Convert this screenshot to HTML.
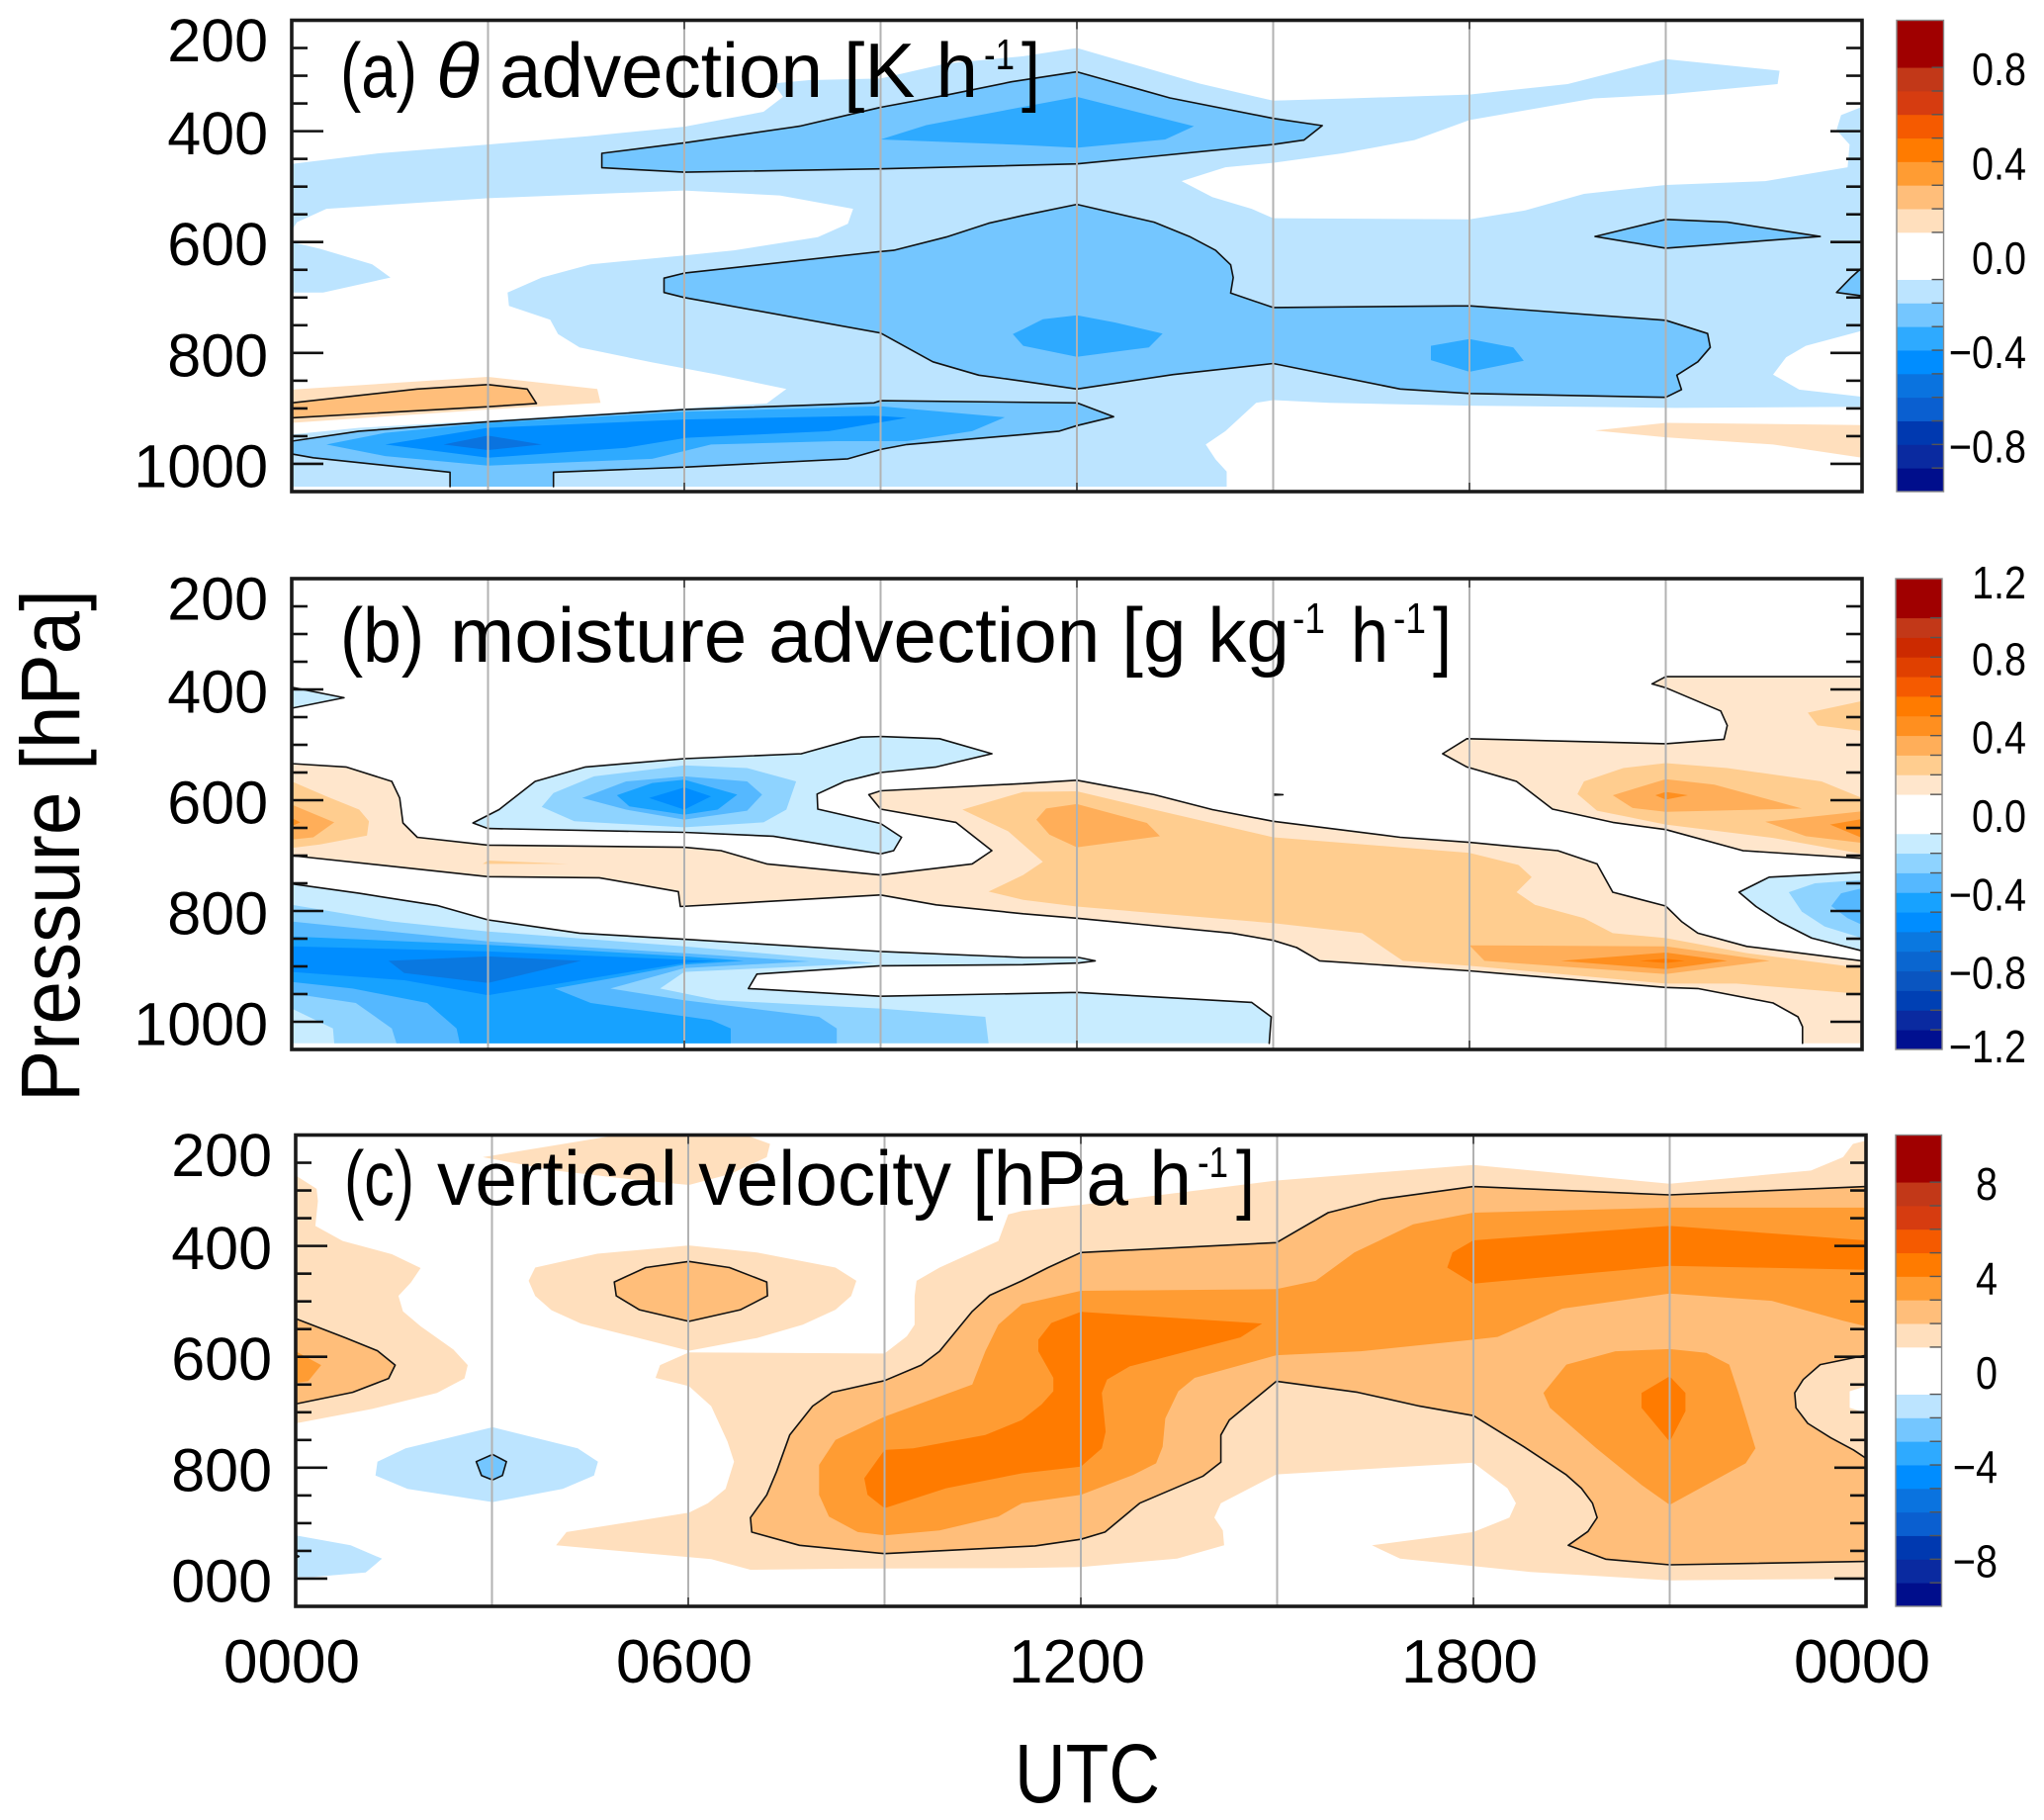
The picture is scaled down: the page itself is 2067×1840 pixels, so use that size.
<!DOCTYPE html>
<html lang="en">
<head>
<meta charset="utf-8">
<title>Advection and vertical velocity time-pressure sections</title>
<style>
html,body{margin:0;padding:0;background:#fff;width:2067px;height:1840px;overflow:hidden}
svg{display:block}
text{font-family:"Liberation Sans",sans-serif;fill:#000}
</style>
</head>
<body>
<svg id="figure" xmlns="http://www.w3.org/2000/svg" width="2067" height="1840" viewBox="0 0 2067 1840">
  <g id="panel-a"></g>
  <g id="panel-b"></g>
  <g id="panel-c"></g>

  <g>
    <text x="344" y="98" font-size="78" textLength="78" lengthAdjust="spacingAndGlyphs">(a)</text>
    <text x="441" y="98" font-size="78" font-style="italic" font-family="Liberation Serif" textLength="44" lengthAdjust="spacingAndGlyphs">θ</text>
    <text x="505" y="98" font-size="78" textLength="484" lengthAdjust="spacingAndGlyphs">advection [K h</text>
    <text x="995" y="70" font-size="44" textLength="31" lengthAdjust="spacingAndGlyphs">-1</text>
    <text x="1033" y="98" font-size="78" textLength="19" lengthAdjust="spacingAndGlyphs">]</text>
  </g>
  <g>
    <text x="344" y="669" font-size="78" textLength="85" lengthAdjust="spacingAndGlyphs">(b)</text>
    <text x="455" y="669" font-size="78" textLength="849" lengthAdjust="spacingAndGlyphs">moisture advection [g kg</text>
    <text x="1307" y="640" font-size="44" textLength="33" lengthAdjust="spacingAndGlyphs">-1</text>
    <text x="1366" y="669" font-size="78" textLength="38" lengthAdjust="spacingAndGlyphs">h</text>
    <text x="1409" y="640" font-size="44" textLength="33" lengthAdjust="spacingAndGlyphs">-1</text>
    <text x="1449" y="669" font-size="78" textLength="19" lengthAdjust="spacingAndGlyphs">]</text>
  </g>
  <g>
    <text x="348" y="1218" font-size="78" textLength="71" lengthAdjust="spacingAndGlyphs">(c)</text>
    <text x="442" y="1218" font-size="78" textLength="763" lengthAdjust="spacingAndGlyphs">vertical velocity [hPa h</text>
    <text x="1211" y="1190" font-size="44" textLength="31" lengthAdjust="spacingAndGlyphs">-1</text>
    <text x="1250" y="1218" font-size="78" textLength="19" lengthAdjust="spacingAndGlyphs">]</text>
  </g>

  <text transform="translate(80,1114) rotate(-90)" font-size="84" textLength="518" lengthAdjust="spacingAndGlyphs">Pressure [hPa]</text>
  <text x="1026" y="1822" font-size="84" textLength="147" lengthAdjust="spacingAndGlyphs">UTC</text>
</svg>

<script>
/* ---------- shared axis data ---------- */
const hourLines = [3, 6, 9, 12, 15, 18, 21];
const hourMajorTicks = [6, 12, 18];
const hourTickValues = [0, 6, 12, 18, 24];
const hourTickLabels = ['0000', '0600', '1200', '1800', '0000'];
const pressureMajor = [200, 400, 600, 800, 1000];
const pressureMinor = [250, 300, 350, 450, 500, 550, 650, 700, 750, 850, 900, 950];
const pressureLabels = ['200', '400', '600', '800', '1000'];
const pressureLabelsC = ['200', '400', '600', '800', '000'];

/* ---------- panel (a) contour regions: [hour UTC, pressure hPa] ---------- */
const aLight = [[0,459],[1.33,440],[3,424],[4.52,409],[6,392],[7.21,365],[7.51,338],[7.36,314],[7.91,308],[9,305],[10,278],[11.18,265],[12,250],[13.87,314],[15,345],[16.16,341],[18,334],[19.5,315],[21,270],[22.74,291],[22.71,315],[21,334],[19.9,341],[18,380],[17.16,416],[16.06,440],[15,457],[14.27,465],[13.6,490],[14.07,519],[14.67,540],[15,557],[18,559],[18.85,543],[19.75,513],[21,497],[22.52,490],[23.78,465],[23.81,424],[23.61,398],[23.68,371],[24,356],[24,760],[23.14,787],[22.84,808],[22.64,839],[23.04,866],[24,879],[24,897],[21.14,899],[18,895],[15.86,890],[15,885],[14.74,890],[14.27,941],[13.97,965],[14.12,992],[14.29,1014],[14.29,1041],[0,1041],[0,947],[1.03,935],[3,922],[6,900],[7.26,891],[7.56,865],[6.51,839],[5.51,817],[4.4,790],[4.07,766],[3.95,740],[3.32,715],[3.3,691],[3.82,664],[4.57,640],[6,624],[6.76,615],[8.04,591],[8.5,567],[8.58,540],[7.46,516],[6,507],[3,521],[0.53,540],[0.08,564],[0,579]];
const aLeftBlob = [[0,600],[0.43,612],[1.23,640],[1.51,664],[0.48,691],[0,691]];
const aWarm1 = [[0,866],[3,843],[4.67,865],[4.72,890],[3,902],[0,926]];
const aWarm2 = [[0,890],[1.92,865],[3,857],[3.6,865],[3.74,891],[3,897],[0,917]];
const aWarmRight = [[19.92,940],[21,926],[24,930],[24,989],[22.64,965],[21,952]];
const aUpper2 = [[4.74,440],[6,421],[7.76,391],[9,357],[10,335],[11,311],[12,293],[13.42,340],[15,377],[15.75,390],[15.47,416],[15,424],[12,459],[9,468],[6,474],[4.74,466]];
const aMiddle2 = [[5.69,665],[6,656],[9,617],[9.2,615],[10,591],[10.65,566],[11.18,552],[12,532],[13.18,564],[13.72,590],[14.12,615],[14.35,641],[14.39,664],[14.35,692],[15,718],[18,715],[21,741],[21.64,765],[21.68,790],[21.49,816],[21.17,840],[21.24,866],[21,880],[18,873],[16.94,865],[15,819],[13.47,839],[12,865],[11.18,851],[10.5,840],[9.8,816],[9,764],[6,700],[5.69,691]];
const aSmall2 = [[19.92,590],[21,559],[21.94,564],[23.36,590],[21,611]];
const aEdge2 = [[24,646],[23.83,664],[23.61,691],[24,697]];
const aLow2 = [[0,959],[1.03,941],[3,924],[6,902],[8.9,890],[9,886],[12,890],[12.56,915],[12,931],[11.73,941],[11.18,947],[9.4,965],[9,974],[8.5,991],[6,1006],[4,1015],[4,1041],[2.42,1041],[2.42,1015],[0.33,989],[0,982]];
const aUpper3 = [[9,415],[9.7,389],[11.18,356],[12,338],[13.79,391],[13.35,415],[12,430],[11.18,425]];
const aMiddle3 = [[11.02,766],[11.18,757],[11.48,739],[12,732],[12.58,745],[13.31,765],[13.1,790],[12,807],[11.18,787]];
const aRight3 = [[17.41,787],[18,775],[18.67,790],[18.83,814],[18,834],[17.41,813]];
const aLow3 = [[0.53,965],[1.43,944],[3,926],[6,906],[9,896],[10.9,916],[10.4,941],[9.4,959],[8.31,959],[6.41,965],[5.51,991],[3,1003],[1.43,986]];
const aLow4 = [[1.43,965],[3,935],[6,920],[8.9,913],[9.4,917],[8.21,941],[6.03,953],[5.11,971],[3,989]];
const aLow5 = [[2.32,965],[3,949],[3.82,965],[3,975]];

/* ---------- panel (b) contour regions ---------- */
const bTopBlue = [[0,396],[0.8,415],[0,434]];
const bWarmStrip = [[0,534],[0.83,540],[1.53,566],[1.65,596],[1.7,641],[1.92,667],[3,681],[6,685],[6.56,691],[7.26,715],[9,735],[10.4,715],[10.7,691],[10.15,640],[9,616],[8.82,590],[9,583],[11.18,570],[12,564],[13.18,590],[14.07,617],[15,638],[16.94,667],[18,676],[19.35,691],[19.95,715],[20.19,766],[21,791],[21.24,819],[21.49,840],[22.24,864],[24,890],[24,1039],[23.09,1039],[23.09,1009],[23.02,991],[22.64,966],[21.49,940],[21,938],[18,908],[15.71,890],[15.36,866],[15,853],[14.37,840],[12,813],[11.18,805],[9.85,789],[9,771],[5.94,792],[5.91,765],[4.7,740],[3,738],[0,700]];
const bWarmUpperRight = [[21,377],[24,377],[24,705],[22.18,691],[21,653],[20.19,640],[19.27,616],[18.72,566],[17.96,540],[17.59,516],[17.96,489],[21,498],[21.89,490],[21.94,465],[21.84,439],[21,397],[20.79,390]];
const bDash = [[15,589],[15.15,590],[15,591]];
const bWarm2Left = [[0,566],[0.53,593],[1.03,617],[1.18,638],[1.15,664],[0.43,680],[0,686]];
const bWarm2Sliver = [[2.92,715],[3,709],[4.22,715]];
const bWarm2Main = [[10.25,617],[11.18,585],[12,584],[13.18,617],[15,667],[18,695],[18.75,717],[18.95,739],[18.72,766],[19,789],[19.75,813],[20.19,840],[21,849],[22.24,876],[24,903],[24,950],[22.08,931],[21,931],[18,899],[16.98,890],[16.36,840],[15,822],[12,792],[11.18,780],[10.65,765],[11.18,735],[11.48,711],[11.18,680],[10.95,656]];
const bWarm2TopRight = [[23.17,442],[24,421],[24,475],[23.32,465]];
const bWarm2MidRight = [[19.65,589],[19.75,566],[20.35,542],[21,533],[21.94,542],[23.38,566],[24,596],[24,697],[22.64,668],[21,644],[19.95,619]];
const bWarm3Left = [[0,608],[0.65,640],[0.33,667],[0,671]];
const bWarm3Mid = [[11.38,635],[11.53,615],[12,607],[13.07,641],[13.27,665],[12,685],[11.58,662]];
const bWarm3Upper = [[20.19,591],[21,562],[21.74,572],[23.08,615],[21,621],[20.49,614]];
const bWarm3Right = [[22.52,639],[24,620],[24,677],[23.14,665]];
const bWarm3Lower = [[18,862],[21,864],[22.59,890],[21,914],[18.23,890]];
const bWarm4Upper = [[20.84,591],[21,585],[21.34,591],[21,599]];
const bWarm4Right = [[23.51,644],[24,634],[24,668]];
const bWarm4Lower = [[19.4,890],[21,875],[21.94,890],[21,905]];
const bWarm4Left = [[0,632],[0.13,640],[0,647]];
const bWarm5Lower = [[20.6,890],[21,886],[21.29,890],[21,894]];
const bUpper1 = [[2.77,641],[3.17,617],[3.72,566],[4.49,540],[6,525],[7.79,516],[8.7,486],[9,485],[9.9,489],[10.7,516],[9.85,540],[9,550],[8.45,566],[8.03,589],[8.04,616],[9,642],[9.32,667],[9.2,691],[9,697],[7.36,665],[6,658],[3,651]];
const bUpper2 = [[3.82,612],[4,587],[4.62,557],[6,537],[6.96,542],[7.71,566],[7.56,617],[7.21,640],[6,649],[4.32,638]];
const bUpper3 = [[4.44,596],[5.11,566],[6,557],[6.96,566],[7.19,590],[6.96,619],[6,635],[5.11,617]];
const bUpper4 = [[4.97,591],[5.51,569],[6,563],[6.81,590],[6.51,617],[6,626],[5.16,611]];
const bUpper5 = [[5.46,596],[6,577],[6.41,593],[6,617]];
const bLower1 = [[0,751],[1.03,768],[2.22,790],[3,816],[4.4,840],[6,851],[9,873],[11.18,884],[12.03,884],[12.28,890],[12.03,894],[11.18,897],[9,899],[7.11,914],[6.98,940],[9,954],[11.18,949],[12,947],[14.67,965],[14.97,991],[14.94,1039],[0,1039]];
const bLower2 = [[0,789],[1.53,819],[3,837],[6,864],[8.9,894],[6,910],[5.63,940],[6.51,961],[9,976],[10.6,991],[10.65,1039],[0.65,1039],[0.63,1012],[0,976]];
const bLower3 = [[0,819],[3,855],[6,876],[7.91,891],[6,903],[4.87,940],[6,961],[8.06,991],[8.33,1012],[8.33,1039],[1.6,1039],[1.53,1012],[0.98,966],[0,949]];
const bLower4 = [[0,846],[3,861],[6,882],[6.91,890],[6,897],[5.01,919],[4.02,940],[4.57,966],[6.41,997],[6.71,1012],[6.71,1039],[2.57,1039],[2.52,1012],[2.07,966],[0.93,940],[0,928]];
const bLower5 = [[0,864],[3,873],[6,888],[6.5,890],[6,894],[3,952],[1.72,925],[0,910]];
const bLower6 = [[1.48,890],[3,882],[4.42,890],[3,930],[1.72,912]];
const bRight1 = [[22.12,766],[22.58,739],[24,730],[24,872],[23.23,849],[22.73,819],[22.38,792]];
const bRight2 = [[22.88,766],[23.28,750],[24,744],[24,849],[23.43,828],[23.08,801]];
const bRight3 = [[23.53,791],[23.68,768],[24,759],[24,825],[23.78,813]];

/* ---------- panel (c) contour regions ---------- */
const cTop1 = [[2.86,240],[4.86,201],[6.9,201],[7.25,216],[7.2,240],[6.65,270],[6.01,290],[5.05,279],[3.96,264]];
const cLeft1 = [[0,273],[0.32,297],[0.34,319],[0.3,364],[0.72,391],[1.47,415],[1.91,440],[1.76,466],[1.57,490],[1.64,518],[1.91,545],[2.41,587],[2.63,615],[2.58,639],[2.16,665],[1.17,694],[0,720]];
const cMid1 = [[3.56,463],[3.66,439],[4.61,414],[6.01,399],[7.05,412],[8.25,439],[8.57,463],[8.49,490],[8.25,515],[7.75,542],[7.05,566],[6.01,589],[4.36,540],[3.91,516],[3.66,490]];
const cBig1 = [[5.5,638],[5.57,615],[6.01,592],[9,594],[9.34,563],[9.46,542],[9.46,490],[9.49,463],[9.84,439],[10.74,391],[10.89,343],[11.1,337],[12,326],[14.99,282],[18,254],[21,288],[23.16,264],[23.65,240],[23.8,216],[24,210],[24,1000],[21,1003],[18.87,988],[16.88,964],[16.45,940],[18,916],[18.55,890],[18.65,864],[18.52,837],[18,791],[14.99,812],[14.14,864],[14.04,890],[14.17,913],[14.19,940],[13.47,964],[12,979],[11.1,981],[8.44,982],[6.95,984],[6.35,965],[3.98,940],[4.14,916],[6.01,881],[6.3,864],[6.57,838],[6.7,789],[6.6,753],[6.35,689],[6.01,653]];
const cHole = [[23.75,662],[24,653],[24,701],[23.75,692]];
const cLeft2 = [[0,531],[0.77,566],[1.25,589],[1.52,615],[1.42,639],[0.87,664],[0,685]];
const cMid2 = [[4.87,465],[5.35,439],[6.01,428],[6.63,439],[7.2,465],[7.21,490],[6.8,515],[6.01,536],[5.25,515],[4.9,490]];
const cBig2 = [[6.95,890],[7.2,849],[7.35,807],[7.55,741],[7.9,689],[8.2,664],[9,643],[9.56,615],[9.84,590],[10.34,518],[10.61,489],[11.1,463],[11.5,439],[12,412],[14.99,394],[15.78,340],[16.58,316],[18,293],[21,308],[24,293],[24,597],[23.3,614],[23.04,641],[22.91,665],[22.93,692],[23.11,720],[23.46,746],[23.81,768],[24,783],[24,969],[21,975],[20.02,965],[19.45,940],[19.75,915],[19.89,890],[19.82,864],[19.65,837],[19.42,813],[18.77,762],[18,706],[17.18,689],[16.23,664],[14.99,644],[14.27,714],[14.14,741],[14.14,790],[13.87,815],[12.9,864],[12.37,916],[12,929],[11.3,941],[9,955],[7.7,940],[6.97,916]];
const cLeft3 = [[0,590],[0.39,615],[0.19,644],[0,647]];
const cBig3 = [[9,708],[8.25,750],[8,795],[8,849],[8.15,888],[8.59,916],[9,922],[9.84,913],[10.74,888],[11.1,864],[12,849],[12.8,813],[13.15,792],[13.25,762],[13.29,711],[13.49,662],[13.74,638],[14.99,597],[16.28,590],[18,569],[18.37,564],[19.36,513],[21,486],[22.56,499],[23.65,535],[24,545],[24,331],[21,331],[18,340],[17.08,361],[16.18,412],[15.59,463],[14.99,478],[12,481],[11.1,505],[10.74,542],[10.54,590],[10.34,650]];
const cRight3 = [[19.07,665],[19.42,614],[20.17,590],[21,586],[21.56,593],[21.91,614],[22.06,668],[22.31,765],[22.16,792],[21,867],[20.57,831],[19.88,765],[19.17,692]];
const cTop4 = [[17.6,439],[17.68,412],[18,390],[21,364],[24,390],[24,443],[21,436],[18,468]];
const cRight4 = [[20.57,665],[21,635],[21.24,665],[21.24,698],[21,753],[20.57,692]];
const cBig4 = [[8.69,819],[9,768],[9.44,765],[10.54,741],[11.1,714],[11.4,686],[11.58,662],[11.58,638],[11.35,590],[11.35,569],[11.55,539],[12,519],[14.77,540],[14.44,565],[12.75,617],[12.4,641],[12.32,665],[12.38,735],[12.32,765],[12,798],[11.1,810],[9.94,837],[9,873],[8.74,849]];
const cCool1 = [[1.22,814],[1.25,789],[1.68,765],[3.01,727],[4.31,765],[4.62,789],[4.56,814],[4.08,838],[3.01,862],[1.71,838]];
const cCool2 = [[2.76,789],[3.01,776],[3.22,789],[3.16,814],[3.01,822],[2.84,814]];
const cCoolLow = [[0,922],[0.84,940],[1.32,964],[1.07,989],[0.27,997],[0,997]];
const cCoolTiny = [[0,957],[0.05,960],[0,963]];

/* ---------- contour levels per panel, in draw order: [points, level, outlined] ---------- */
const aRegions = [[aLight,-1,0],[aLeftBlob,-1,0],[aWarm1,1,0],[aWarm2,2,1],[aWarmRight,1,0],[aUpper2,-2,1],[aMiddle2,-2,1],[aSmall2,-2,1],[aEdge2,-2,1],[aLow2,-2,1],[aUpper3,-3,0],[aMiddle3,-3,0],[aRight3,-3,0],[aLow3,-3,0],[aLow4,-4,0],[aLow5,-5,0]];
const bRegions = [[bTopBlue,-1,1],[bWarmStrip,1,1],[bWarmUpperRight,1,1],[bDash,1,1],[bWarm2Left,2,0],[bWarm2Sliver,2,0],[bWarm2Main,2,0],[bWarm2TopRight,2,0],[bWarm2MidRight,2,0],[bWarm3Left,3,0],[bWarm3Mid,3,0],[bWarm3Upper,3,0],[bWarm3Right,3,0],[bWarm3Lower,3,0],[bWarm4Upper,4,0],[bWarm4Right,4,0],[bWarm4Lower,4,0],[bWarm4Left,4,0],[bWarm5Lower,5,0],[bUpper1,-1,1],[bUpper2,-2,0],[bUpper3,-3,0],[bUpper4,-4,0],[bUpper5,-5,0],[bLower1,-1,1],[bLower2,-2,0],[bLower3,-3,0],[bLower4,-4,0],[bLower5,-5,0],[bLower6,-6,0],[bRight1,-1,1],[bRight2,-2,0],[bRight3,-3,0]];
const cRegions = [[cTop1,1,0],[cLeft1,1,0],[cMid1,1,0],[cBig1,1,0],[cHole,0,0],[cLeft2,2,1],[cMid2,2,1],[cBig2,2,1],[cLeft3,3,0],[cBig3,3,0],[cRight3,3,0],[cTop4,4,0],[cRight4,4,0],[cBig4,4,0],[cCool1,-1,0],[cCool2,-2,1],[cCoolLow,-1,0],[cCoolTiny,-2,1]];

/* ---------- colour bar data ---------- */
const cbABounds = [-1,-0.9,-0.8,-0.7,-0.6,-0.5,-0.4,-0.3,-0.2,-0.1,0.1,0.2,0.3,0.4,0.5,0.6,0.7,0.8,1];
const cbBBounds = [-1.2,-1.1,-1,-0.9,-0.8,-0.7,-0.6,-0.5,-0.4,-0.3,-0.2,-0.1,0.1,0.2,0.3,0.4,0.5,0.6,0.7,0.8,0.9,1,1.2];
const cbCBounds = [-10,-9,-8,-7,-6,-5,-4,-3,-2,-1,1,2,3,4,5,6,7,8,10];
const cbAValues = [0.8,0.4,0,-0.4,-0.8];
const cbALabels = ['0.8','0.4','0.0','−0.4','−0.8'];
const cbBValues = [1.2,0.8,0.4,0,-0.4,-0.8,-1.2];
const cbBLabels = ['1.2','0.8','0.4','0.0','−0.4','−0.8','−1.2'];
const cbCValues = [8,4,0,-4,-8];
const cbCLabels = ['8','4','0','−4','−8'];

/* ---------- styling and layout (not data) ---------- */
const swatchesAC = ['#000e8c','#0a2aa0','#0039b0','#0a5fd0','#0a73df','#008dff','#2eaaff','#74c6ff','#bce4ff','#ffffff','#ffdfbd','#ffbe7a','#ff9c33','#ff7b00','#f55a00','#d63c10','#c23818','#a00000'];
const swatchesB = ['#001090','#0a2aa0','#0040b4','#0a55c0','#0a66d0','#0a78e0','#008dff','#17a2ff','#55b8ff','#8ed3ff','#c8ecff','#ffffff','#ffe6cc','#ffcd8f','#ffae59','#ff8f1f','#ff7b00','#f55a00','#e04000','#cc2a00','#c23818','#a00000'];
const levelColorsAC = {'-6':'#0a5fd0','-5':'#0a73df','-4':'#008dff','-3':'#2eaaff','-2':'#74c6ff','-1':'#bce4ff','0':'#ffffff','1':'#ffdfbd','2':'#ffbe7a','3':'#ff9c33','4':'#ff7b00','5':'#f55a00'};
const levelColorsB = {'-6':'#0a78e0','-5':'#008dff','-4':'#17a2ff','-3':'#55b8ff','-2':'#8ed3ff','-1':'#c8ecff','0':'#ffffff','1':'#ffe6cc','2':'#ffcd8f','3':'#ffae59','4':'#ff8f1f','5':'#ff7b00'};
const panelDefs = [
  {id:'panel-a',key:'a',regions:aRegions,colors:levelColorsAC,box:[295,1883,20.5,497],labels:pressureLabels,labelX:271,bar:[1918,1965.5],bounds:cbABounds,swatches:swatchesAC,vals:cbAValues,valLabels:cbALabels,valX:2049,xLabels:false},
  {id:'panel-b',key:'b',regions:bRegions,colors:levelColorsB,box:[295,1883,585,1061],labels:pressureLabels,labelX:271,bar:[1917,1964],bounds:cbBBounds,swatches:swatchesB,vals:cbBValues,valLabels:cbBLabels,valX:2049,xLabels:false},
  {id:'panel-c',key:'c',regions:cRegions,colors:levelColorsAC,box:[299,1887,1147.5,1624],labels:pressureLabelsC,labelX:275,bar:[1917,1963.5],bounds:cbCBounds,swatches:swatchesAC,vals:cbCValues,valLabels:cbCLabels,valX:2020,xLabels:true}
];
const SVGNS = 'http://www.w3.org/2000/svg';
function mk(parent, tag) {
  const el = document.createElementNS(SVGNS, tag);
  parent.appendChild(el);
  return el;
}
function drawLine(parent, x1, y1, x2, y2, color, width, name) {
  const ln = mk(parent, 'line');
  ln.setAttribute('x1', x1);
  ln.setAttribute('y1', y1);
  ln.setAttribute('x2', x2);
  ln.setAttribute('y2', y2);
  ln.setAttribute('stroke', color);
  ln.setAttribute('stroke-width', width);
  
  
  return ln;
}
function drawPanel(def) {
  const g = document.getElementById(def.id);
  const [x0, x1, y0, y1] = def.box;
  const xAxis = h => x0 + h / 24 * (x1 - x0);
  const yAxis = p => y0 + (p - 200) / 850 * (y1 - y0);

  def.regions.forEach(reg => {
    const pts = reg[0];
    const fill = mk(g, 'path');
    fill.setAttribute('d', 'M' + pts.map(q => xAxis(q[0]).toFixed(1) + ' ' + yAxis(q[1]).toFixed(1)).join('L') + 'Z');
    fill.setAttribute('fill', def.colors[String(reg[1])]);
    fill.setAttribute('stroke', 'none');
    
    
    if (reg[2]) {
      let d = '';
      pts.forEach((q, i) => {
        const n = pts[(i + 1) % pts.length];
        const onEdge = (q[0] === 0 && n[0] === 0) || (q[0] === 24 && n[0] === 24) || (q[1] >= 1039 && n[1] >= 1039);
        if (!onEdge) {
          d += 'M' + xAxis(q[0]).toFixed(1) + ' ' + yAxis(q[1]).toFixed(1) + 'L' + xAxis(n[0]).toFixed(1) + ' ' + yAxis(n[1]).toFixed(1);
        }
      });
      const outline = mk(g, 'path');
      outline.setAttribute('d', d);
      outline.setAttribute('fill', 'none');
      outline.setAttribute('stroke', '#111');
      outline.setAttribute('stroke-width', '1.6');
      outline.setAttribute('stroke-linecap', 'round');
      
      
    }
  });

  hourLines.forEach(h => drawLine(g, xAxis(h), y0, xAxis(h), y1, '#b2b2b2', 2, 'hour-gridline'));
  hourMajorTicks.forEach(h => {
    drawLine(g, xAxis(h), y0, xAxis(h), y0 + 9, '#555', 2, 'top-hour-tick');
    drawLine(g, xAxis(h), y1 - 9, xAxis(h), y1, '#555', 2, 'bottom-hour-tick');
  });
  pressureMinor.forEach(p => {
    drawLine(g, x0, yAxis(p), x0 + 16, yAxis(p), '#111', 2.6, 'left-minor-tick');
    drawLine(g, x1 - 16, yAxis(p), x1, yAxis(p), '#111', 2.6, 'right-minor-tick');
  });
  pressureMajor.forEach((p, i) => {
    drawLine(g, x0, yAxis(p), x0 + 32, yAxis(p), '#111', 2.6, 'left-major-tick');
    drawLine(g, x1 - 32, yAxis(p), x1, yAxis(p), '#111', 2.6, 'right-major-tick');
    const t = mk(g, 'text');
    t.textContent = def.labels[i];
    t.setAttribute('x', def.labelX);
    t.setAttribute('y', yAxis(p) + (p === 200 ? 19.5 : 1.5) + 22);
    t.setAttribute('font-size', '61');
    t.setAttribute('text-anchor', 'end');
    
    
  });

  const frame = mk(g, 'rect');
  frame.setAttribute('x', x0);
  frame.setAttribute('y', y0);
  frame.setAttribute('width', x1 - x0);
  frame.setAttribute('height', y1 - y0);
  frame.setAttribute('fill', 'none');
  frame.setAttribute('stroke', '#1a1a1a');
  frame.setAttribute('stroke-width', '3.6');
  
  

  if (def.xLabels) {
    hourTickValues.forEach((h, i) => {
      const t = mk(g, 'text');
      t.textContent = hourTickLabels[i];
      t.setAttribute('x', xAxis(h) - 4);
      t.setAttribute('y', 1701);
      t.setAttribute('font-size', '62');
      t.setAttribute('text-anchor', 'middle');
      
      
    });
  }

  const cb = mk(g, 'g');
  
  
  const [bx0, bx1] = def.bar;
  const vMin = def.bounds[0];
  const vMax = def.bounds[def.bounds.length - 1];
  const cbAxis = v => y1 - (v - vMin) / (vMax - vMin) * (y1 - y0);
  def.swatches.forEach((color, i) => {
    const r = mk(cb, 'rect');
    r.setAttribute('x', bx0);
    r.setAttribute('y', cbAxis(def.bounds[i + 1]));
    r.setAttribute('width', bx1 - bx0);
    r.setAttribute('height', cbAxis(def.bounds[i]) - cbAxis(def.bounds[i + 1]) + 0.4);
    r.setAttribute('fill', color);
    
    
  });
  def.bounds.slice(1, -1).forEach(v => drawLine(cb, bx1 - 12, cbAxis(v), bx1, cbAxis(v), '#555', 1.4, 'colorbar-tick'));
  const border = mk(cb, 'rect');
  border.setAttribute('x', bx0);
  border.setAttribute('y', y0);
  border.setAttribute('width', bx1 - bx0);
  border.setAttribute('height', y1 - y0);
  border.setAttribute('fill', 'none');
  border.setAttribute('stroke', '#8a8a8a');
  border.setAttribute('stroke-width', '1.4');
  
  
  def.vals.forEach((v, i) => {
    const center = Math.min(Math.max(cbAxis(v) + 2, y0 + 4), y1 - 3);
    const t = mk(cb, 'text');
    t.textContent = def.valLabels[i];
    t.setAttribute('x', def.valX);
    t.setAttribute('y', center + 16);
    t.setAttribute('font-size', '46');
    t.setAttribute('text-anchor', 'end');
    
    
    t.setAttribute('textLength', (t.getComputedTextLength() * 0.86).toFixed(1));
    t.setAttribute('lengthAdjust', 'spacingAndGlyphs');
  });
}
panelDefs.forEach(drawPanel);
</script>
</body>
</html>
